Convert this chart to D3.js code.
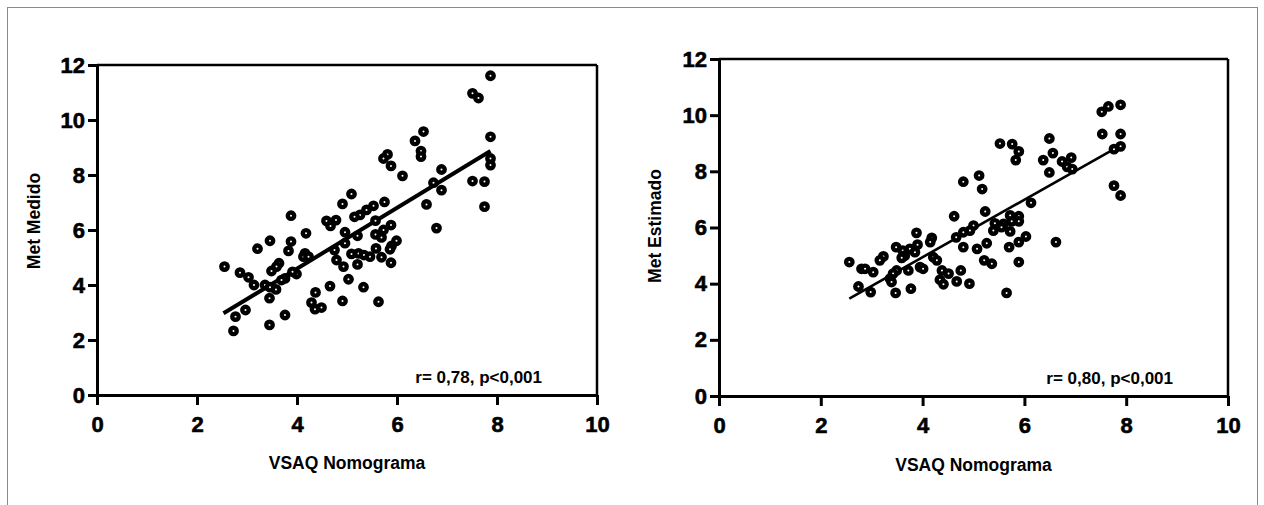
<!DOCTYPE html>
<html><head><meta charset="utf-8">
<script src="https://cdn.jsdelivr.net/npm/d3@7"></script>
<style>
body{margin:0;background:#fff}
svg{display:block}
text{font-family:"Liberation Sans",Arial,sans-serif;font-weight:bold;fill:#000}
</style>
</head><body>
<svg id="c" width="1264" height="505"></svg>
<script>
// ---- data ----
const xTicks = [0, 2, 4, 6, 8, 10];
const yTicks = [0, 2, 4, 6, 8, 10, 12];
const xTitle = "VSAQ Nomograma";
const yTitles = ["Met Medido", "Met Estimado"];
const stats = ["r= 0,78, p<0,001", "r= 0,80, p<0,001"];

const medidoX = [7.87,7.51,7.63,6.53,6.36,6.48,6.48,7.87,7.87,7.87,5.81,5.73,5.88,6.11,6.89,6.73,6.89,7.51,7.75,7.75,
  6.59,5.09,4.91,5.75,5.53,5.39,5.26,5.15,3.88,4.59,4.78,4.67,6.79,5.88,5.57,5.73,5.57,5.69,5.21,4.96,
  4.96,4.18,3.46,3.21,3.88,3.83,5.99,5.89,5.86,5.58,4.16,4.13,4.23,4.75,4.79,4.93,5.09,5.23,5.34,5.46,
  5.69,5.88,5.21,3.64,3.59,3.49,3.99,3.91,3.76,3.69,2.55,2.86,3.03,3.14,3.36,3.46,3.58,3.45,5.03,4.66,
  5.33,4.37,4.29,4.36,4.49,4.91,5.63,2.97,2.77,3.76,3.45,2.73];
const medidoY = [11.61,10.97,10.80,9.58,9.24,8.87,8.67,9.39,8.60,8.36,8.75,8.60,8.33,7.97,8.20,7.72,7.45,7.78,7.76,6.85,
  6.93,7.31,6.95,7.02,6.88,6.73,6.55,6.48,6.52,6.33,6.36,6.15,6.07,6.18,6.34,6.00,5.84,5.73,5.79,5.92,
  5.52,5.88,5.61,5.32,5.58,5.24,5.61,5.42,5.30,5.33,5.15,5.03,5.03,5.27,4.91,4.67,5.13,5.15,5.09,5.03,
  5.01,4.81,4.75,4.79,4.67,4.51,4.40,4.48,4.24,4.18,4.67,4.45,4.28,4.00,4.00,3.92,3.84,3.52,4.21,3.96,
  3.92,3.73,3.36,3.12,3.18,3.42,3.39,3.09,2.85,2.91,2.55,2.33];

const estimadoX = [7.89,7.65,7.52,7.53,7.89,7.89,7.76,7.76,7.89,5.52,5.76,5.89,5.83,6.49,6.56,6.37,6.49,6.74,6.92,6.84,
  6.94,4.80,5.11,5.17,5.23,4.62,6.13,5.72,5.89,5.89,5.75,5.59,5.42,5.39,5.55,5.72,5.00,4.93,4.80,4.66,
  4.80,5.07,5.26,5.21,5.36,5.70,5.89,6.03,5.89,5.65,6.62,3.88,4.18,4.15,3.48,3.61,3.75,3.90,3.85,3.65,
  3.59,3.23,3.16,2.56,2.80,2.87,3.03,3.49,3.42,3.72,3.95,4.01,4.21,4.28,4.38,4.51,4.75,4.34,4.41,4.67,
  4.92,3.36,3.39,2.74,2.98,3.47,3.77];
const estimadoY = [10.37,10.31,10.12,9.33,9.33,8.89,8.79,7.49,7.14,8.99,8.97,8.71,8.40,9.17,8.65,8.40,7.96,8.35,8.49,8.16,
  8.08,7.63,7.85,7.37,6.57,6.40,6.88,6.43,6.40,6.22,6.22,6.13,6.15,5.89,6.01,5.86,6.07,5.89,5.83,5.65,
  5.30,5.24,5.44,4.83,4.71,5.30,5.48,5.68,4.77,3.67,5.48,5.81,5.63,5.48,5.30,5.18,5.24,5.39,5.12,5.00,
  4.92,4.97,4.83,4.77,4.53,4.53,4.41,4.47,4.36,4.47,4.59,4.53,4.94,4.83,4.47,4.36,4.47,4.14,3.98,4.08,
  4.00,4.18,4.06,3.90,3.70,3.67,3.82];

const medidoFitX = [2.53, 7.87];
const medidoFitY = [2.97, 8.87];
const estimadoFitX = [2.56, 7.76];
const estimadoFitY = [3.47, 8.79];

// ---- drawing ----
const svg = d3.select("#c");

svg.append("rect").attr("x", 7.5).attr("y", 7.5).attr("width", 1250).attr("height", 600)
  .attr("fill", "none").attr("stroke", "#8a8a8a").attr("stroke-width", 1);

const panels = [
  {xs: medidoX, ys: medidoY, fx: medidoFitX, fy: medidoFitY, yTitle: yTitles[0], stat: stats[0],
   left: 97, right: 597, bottom: 395, top: 65, yTitleX: 34, yTitleY: 221, xTitleY: 469, fitW: 4},
  {xs: estimadoX, ys: estimadoY, fx: estimadoFitX, fy: estimadoFitY, yTitle: yTitles[1], stat: stats[1],
   left: 719, right: 1228, bottom: 396, top: 59, yTitleX: 655, yTitleY: 226, xTitleY: 471, fitW: 2.6}
];

panels.forEach(p => {
  const x = d3.scaleLinear().domain([0, 10]).range([p.left, p.right]);
  const y = d3.scaleLinear().domain([0, 12]).range([p.bottom, p.top]);
  const g = svg.append("g");

  // frame top/right
  g.append("line").attr("x1", x(0)).attr("x2", x(10)).attr("y1", y(12)).attr("y2", y(12))
    .attr("stroke", "#000").attr("stroke-width", 2.5);
  g.append("line").attr("x1", x(10)).attr("x2", x(10)).attr("y1", y(12)).attr("y2", y(0))
    .attr("stroke", "#000").attr("stroke-width", 2.5);

  const xa = g.append("g").attr("transform", `translate(0,${y(0)})`)
    .call(d3.axisBottom(x).tickValues(xTicks).tickSize(10).tickSizeOuter(0).tickPadding(11).tickFormat(d3.format("d")));
  const ya = g.append("g").attr("transform", `translate(${x(0)},0)`)
    .call(d3.axisLeft(y).tickValues(yTicks).tickSize(9).tickSizeOuter(0).tickPadding(3).tickFormat(d3.format("d")));
  [xa, ya].forEach(a => {
    a.attr("font-size", null);
    a.select(".domain").attr("stroke", "#000").attr("stroke-width", 3);
    a.selectAll(".tick line").attr("stroke", "#000").attr("stroke-width", 3);
    a.selectAll(".tick text").style("font-size", "22px").attr("font-family", '"Liberation Sans",Arial,sans-serif')
      .attr("font-weight", "bold").attr("fill", "#000").attr("stroke", "#000").attr("stroke-width", 0.6);
  });

  // regression line
  g.append("line").attr("x1", x(p.fx[0])).attr("y1", y(p.fy[0])).attr("x2", x(p.fx[1])).attr("y2", y(p.fy[1]))
    .attr("stroke", "#000").attr("stroke-width", p.fitW);

  // points
  g.selectAll("circle.pt").data(p.xs.map((v, i) => [v, p.ys[i]])).join("circle")
    .attr("class", "pt").attr("cx", d => x(d[0])).attr("cy", d => y(d[1])).attr("r", 3.2)
    .attr("fill", "#fff").attr("stroke", "#000").attr("stroke-width", 4.4);

  // titles
  g.append("text").attr("x", (x(0) + x(10)) / 2).attr("y", p.xTitleY).attr("text-anchor", "middle")
    .style("font-size", "17.5px").text(xTitle);
  g.append("text").attr("transform", `translate(${p.yTitleX},${p.yTitleY}) rotate(-90)`)
    .attr("text-anchor", "middle").attr("dy", "0.35em").style("font-size", "17.5px").text(p.yTitle);
  g.append("text").attr("x", x(10) - 55).attr("y", y(0) - 12).attr("text-anchor", "end")
    .style("font-size", "17px").text(p.stat);
});
</script>
</body></html>
